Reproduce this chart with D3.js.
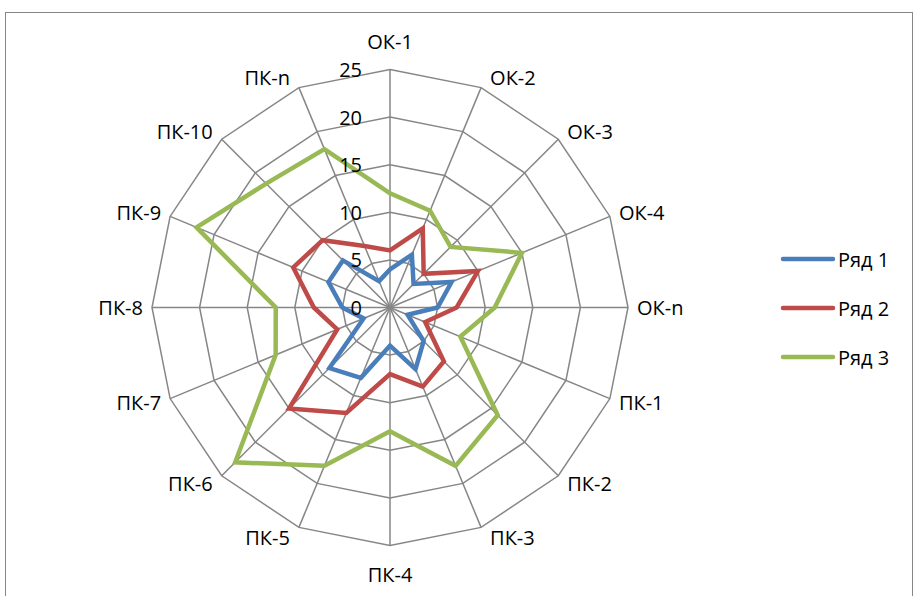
<!DOCTYPE html>
<html>
<head>
<meta charset="utf-8">
<script src="https://cdn.jsdelivr.net/npm/d3@7"></script>
<style>
  body { margin: 0; background: #fff; }
  svg { font-family: "Open Sans", sans-serif; }
</style>
</head>
<body>
<svg id="chart" width="915" height="596"></svg>
<script>
// categories clockwise from the top
const categories = ["ОК-1", "ОК-2", "ОК-3", "ОК-4", "ОК-n", "ПК-1", "ПК-2", "ПК-3",
  "ПК-4", "ПК-5", "ПК-6", "ПК-7", "ПК-8", "ПК-9", "ПК-10", "ПК-n"];

const series1 = [4, 6, 3.5, 7, 5, 2, 5, 7, 4, 8, 9, 3, 5, 7, 7, 3];
const series2 = [6, 9, 5, 10, 7, 4, 8, 9, 7, 12, 15, 6, 8, 11, 10, 7];
const series3 = [12, 11, 9, 15, 11, 8, 16, 18, 13, 18, 23, 13, 12, 22, 18.4, 18];

const seriesNames = ["Ряд 1", "Ряд 2", "Ряд 3"];
const tickValues = [0, 5, 10, 15, 20, 25];

const width = 915, height = 596;
const cx = 390, cy = 307.5, radius = 238;
const colors = ["#4a7ebb", "#be4b48", "#98b954"];

const svg = d3.select("#chart");

// chart area border
svg.append("rect")
  .attr("x", 5.5).attr("y", 12.5)
  .attr("width", 907).attr("height", 620)
  .attr("fill", "none")
  .attr("stroke", "#868686")
  .attr("stroke-width", 1);

const r = d3.scaleLinear().domain([0, 25]).range([0, radius]);
const angle = d3.scaleLinear()
  .domain([0, categories.length])
  .range([0, 2 * Math.PI]);

const g = svg.append("g").attr("transform", `translate(${cx},${cy})`);

// rings
const ring = d3.lineRadial()
  .angle((d, i) => angle(i))
  .radius(d => r(d))
  .curve(d3.curveLinearClosed);

g.selectAll(".ring")
  .data(tickValues.slice(1))
  .join("path")
  .attr("class", "ring")
  .attr("d", v => ring(categories.map(() => v)))
  .attr("fill", "none")
  .attr("stroke", "#868686")
  .attr("stroke-width", 1.5);

// spokes
g.selectAll(".spoke")
  .data(categories)
  .join("line")
  .attr("class", "spoke")
  .attr("x1", 0).attr("y1", 0)
  .attr("x2", (d, i) => r(25) * Math.sin(angle(i)))
  .attr("y2", (d, i) => -r(25) * Math.cos(angle(i)))
  .attr("stroke", "#868686")
  .attr("stroke-width", 1.5);

// category labels, placed beside the spoke ends
g.selectAll(".cat")
  .data(categories)
  .join("text")
  .attr("class", "cat")
  .attr("font-size", 20)
  .attr("fill", "#000")
  .attr("text-anchor", "middle")
  .attr("dominant-baseline", "central")
  .text(d => d)
  .each(function(d, i) {
    const a = angle(i);
    const w = this.getComputedTextLength();
    const sx = Math.sin(a), cy0 = Math.cos(a);
    let x = r(25) * sx, y = -r(25) * cy0;
    if (Math.abs(sx) < 0.01) {
      y += cy0 > 0 ? -28 : 29;
    } else {
      x += Math.sign(sx) * (9 + w / 2);
      y += -cy0 * 11;
    }
    d3.select(this).attr("x", x).attr("y", y);
  });

// series
const line = d3.lineRadial()
  .angle((d, i) => angle(i))
  .radius(d => r(d))
  .curve(d3.curveLinearClosed);

[series1, series2, series3].forEach((s, k) => {
  g.append("path")
    .datum(s)
    .attr("d", line)
    .attr("fill", "none")
    .attr("stroke", colors[k])
    .attr("stroke-width", 4.5);
});

// axis tick labels
g.selectAll(".tick")
  .data(tickValues)
  .join("text")
  .attr("class", "tick")
  .attr("x", -28)
  .attr("y", d => -r(d))
  .attr("text-anchor", "end")
  .attr("dominant-baseline", "central")
  .attr("font-size", 20)
  .attr("fill", "#000")
  .text(d => d);

// legend
const legend = svg.append("g").attr("transform", "translate(783,259)");
seriesNames.forEach((name, k) => {
  const row = legend.append("g").attr("transform", `translate(0,${k * 49})`);
  row.append("line")
    .attr("x1", 0).attr("x2", 50)
    .attr("stroke", colors[k])
    .attr("stroke-width", 4.5)
    .attr("stroke-linecap", "round");
  row.append("text")
    .attr("x", 55)
    .attr("dominant-baseline", "central")
    .attr("font-size", 20)
    .text(name);
});
</script>
</body>
</html>
